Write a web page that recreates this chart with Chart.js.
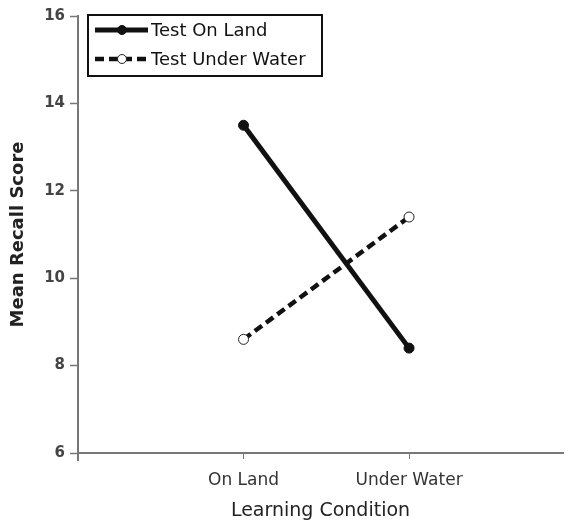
<!DOCTYPE html>
<html>
<head>
<meta charset="utf-8">
<script src="https://cdn.jsdelivr.net/npm/chart.js@4"></script>
<style>
  html, body { margin: 0; padding: 0; background: #fff; }
  #wrap { width: 569px; height: 526px; }
</style>
</head>
<body>
<div id="wrap"><canvas id="grafico" width="569" height="526"></canvas></div>
<script>
// condizioni di apprendimento (asse x) e punteggi medi
const condizioni = ['On Land', 'Under Water'];
const posizioni = [1, 2];
const testTerra = [13.5, 8.4];
const testAcqua = [8.6, 11.4];
const tickY = [6, 8, 10, 12, 14, 16];

const font = "'DejaVu Sans', Verdana, sans-serif";
const grigio = '#777';

// legenda disegnata dentro l'area del grafico, con bordo nero
const legendaInterna = {
    id: 'legendaInterna',
    afterDraw(chart) {
        const ctx = chart.ctx;
        const x0 = 88, y0 = 15, w = 234, h = 61;
        ctx.save();
        ctx.fillStyle = '#fff';
        ctx.fillRect(x0, y0, w, h);
        ctx.strokeStyle = '#111';
        ctx.lineWidth = 2;
        ctx.strokeRect(x0, y0, w, h);

        chart.data.datasets.forEach((ds, i) => {
            const y = y0 + 15 + i * 29;
            ctx.beginPath();
            ctx.setLineDash(ds.borderDash || []);
            ctx.lineWidth = ds.borderWidth;
            ctx.strokeStyle = ds.borderColor;
            ctx.moveTo(x0 + 7, y);
            ctx.lineTo(x0 + 60, y);
            ctx.stroke();
            ctx.setLineDash([]);
            ctx.beginPath();
            ctx.arc(x0 + 34, y, 4.5, 0, Math.PI * 2);
            ctx.fillStyle = ds.pointBackgroundColor;
            ctx.fill();
            ctx.lineWidth = 1;
            ctx.strokeStyle = ds.pointBorderColor;
            ctx.stroke();

            ctx.fillStyle = '#111';
            ctx.font = '18px ' + font;
            ctx.textBaseline = 'middle';
            ctx.fillText(ds.label, x0 + 63, y + 1);
        });
        ctx.restore();
    }
};

// l'asse y scende un po' sotto l'asse x
const codaAsseY = {
    id: 'codaAsseY',
    afterDraw(chart) {
        const { ctx, chartArea } = chart;
        ctx.save();
        ctx.strokeStyle = grigio;
        ctx.lineWidth = 2;
        ctx.beginPath();
        ctx.moveTo(chartArea.left, chartArea.bottom);
        ctx.lineTo(chartArea.left, chartArea.bottom + 8);
        ctx.stroke();
        ctx.restore();
    }
};

const datiGrafico = {
    datasets: [
        {
            label: 'Test On Land',
            data: posizioni.map((x, i) => ({ x, y: testTerra[i] })),
            borderColor: '#111',
            borderWidth: 5,
            pointRadius: 5,
            pointBackgroundColor: '#111',
            pointBorderColor: '#111',
            pointBorderWidth: 1
        },
        {
            label: 'Test Under Water',
            data: posizioni.map((x, i) => ({ x, y: testAcqua[i] })),
            borderColor: '#111',
            borderWidth: 4.5,
            borderDash: [9, 5],
            pointRadius: 5,
            pointBackgroundColor: '#fff',
            pointBorderColor: '#222',
            pointBorderWidth: 1
        }
    ]
};

const config = {
    type: 'line',
    data: datiGrafico,
    plugins: [legendaInterna, codaAsseY],
    options: {
        responsive: false,
        animation: false,
        layout: { padding: { top: 16, right: 0, left: 0, bottom: 0 } },
        plugins: {
            legend: { display: false },
            tooltip: { enabled: false }
        },
        scales: {
            x: {
                type: 'linear',
                min: 0,
                max: 2.93,
                afterFit: scala => { scala.height = 73; },
                afterBuildTicks: scala => {
                    scala.ticks = posizioni.map(v => ({ value: v }));
                },
                ticks: {
                    callback: (v) => condizioni[posizioni.indexOf(v)] || '',
                    color: '#333',
                    font: { family: font, size: 17 },
                    padding: 11,
                    maxRotation: 0
                },
                grid: {
                    drawOnChartArea: false,
                    tickLength: 6,
                    color: grigio,
                    tickWidth: 1
                },
                border: { color: grigio, width: 2 },
                title: {
                    display: true,
                    text: 'Learning Condition',
                    color: '#222',
                    font: { family: font, size: 19 },
                    padding: { top: 0 }
                }
            },
            y: {
                min: 6,
                max: 16,
                afterFit: scala => { scala.width = 78; },
                afterBuildTicks: scala => {
                    scala.ticks = tickY.map(v => ({ value: v }));
                },
                ticks: {
                    color: '#444',
                    font: { family: font, size: 15, weight: 'bold' },
                    padding: 5
                },
                grid: {
                    drawOnChartArea: false,
                    tickLength: 8,
                    color: grigio,
                    tickWidth: 1.5
                },
                border: { color: grigio, width: 2 },
                title: {
                    display: true,
                    text: 'Mean Recall Score',
                    color: '#222',
                    font: { family: font, size: 18, weight: 'bold' },
                    padding: { top: 8, bottom: 0 }
                }
            }
        }
    }
};

new Chart(document.getElementById('grafico').getContext('2d'), config);
</script>
</body>
</html>
